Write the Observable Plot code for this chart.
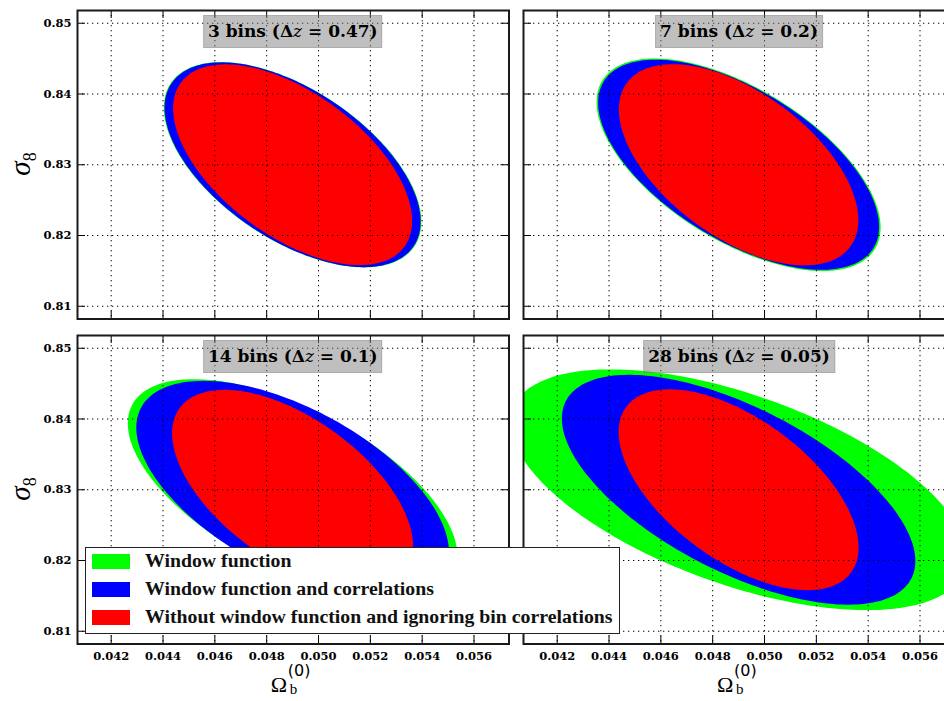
<!DOCTYPE html>
<html>
<head>
<meta charset="utf-8">
<script src="https://cdn.jsdelivr.net/npm/d3@7"></script>
<script src="https://cdn.jsdelivr.net/npm/@observablehq/plot@0.6"></script>
<style>
  html, body { margin: 0; padding: 0; background: #fff; overflow: hidden; }
  #root { position: relative; width: 944px; height: 701px; overflow: hidden; background: #fff; }
  .panel { position: absolute; }
  .panel svg { max-width: none; overflow: visible; display: block; }
  .title { position: absolute; transform: translateX(-50%); box-sizing: border-box;
           background: rgba(128,128,128,0.5); border: 1px solid rgba(128,128,128,0.3);
           font: bold 17px "DejaVu Serif"; height: 33px; line-height: 31px; padding: 0 4px;
           white-space: nowrap; color: #000; }
  .title i { font-weight: normal; }
  .ylab { position: absolute; transform: translate(-50%, -50%) rotate(-90deg);
          font: italic 29px "Liberation Serif"; white-space: nowrap; line-height: 1; color: #000; }
  .ylab span { font-style: normal; font-size: 18px; position: relative; top: 6px; }
  .xlab { position: absolute; width: 60px; height: 24px; color: #000; }
  .xlab .om { position: absolute; left: 0; top: 0; font: 22px "Liberation Serif"; line-height: 1; }
  .xlab .sup { position: absolute; left: 17px; top: -11px; font: 16px "DejaVu Sans"; line-height: 1; }
  .xlab .sub { position: absolute; left: 19px; top: 8px; font: 15px "Liberation Serif"; line-height: 1; }
  .legend { position: absolute; left: 85px; top: 546.7px; width: 535px; height: 87.3px; box-sizing: border-box;
            background: #fff; border: 1.5px solid #222; }
  .legend .sw { position: absolute; left: 6.3px; width: 38px; height: 15px; }
  .legend .lt { position: absolute; left: 59px; font: bold 19.8px "Liberation Serif"; line-height: 1; white-space: nowrap; color: #111; }
</style>
</head>
<body>
<div id="root"></div>
<script>
// ---------------- data ----------------
const panelBins = ["3 bins", "7 bins", "14 bins", "28 bins"];
const panelDeltaZ = ["0.47", "0.2", "0.1", "0.05"];

const seriesNames = [
  "Window function",
  "Window function and correlations",
  "Without window function and ignoring bin correlations"
];
const seriesColors = ["#00ff00", "#0000ff", "#ff0000"];

// Fiducial centre of the ellipses (Ω_b^(0), σ8) per panel
const centerOmega = [0.049, 0.049, 0.049, 0.049];
const centerSigma = [0.83, 0.83, 0.83, 0.83];

// Half extents and correlation of each contour, per panel
const greenHalfOmega = [0.00497, 0.00548, 0.00636, 0.00881];
const greenHalfSigma = [0.01451, 0.01502, 0.01563, 0.01701];
const greenRho       = [-0.555, -0.59, -0.60, -0.56];

const blueHalfOmega  = [0.00494, 0.00542, 0.00603, 0.00682];
const blueHalfSigma  = [0.01447, 0.01485, 0.01539, 0.01624];
const blueRho        = [-0.555, -0.59, -0.57, -0.62];

const redHalfOmega   = [0.00461, 0.00462, 0.00465, 0.00463];
const redHalfSigma   = [0.01419, 0.01422, 0.01412, 0.01419];
const redRho         = [-0.56, -0.55, -0.565, -0.575];

const xTicks = [0.042, 0.044, 0.046, 0.048, 0.050, 0.052, 0.054, 0.056];
const yTicks = [0.81, 0.82, 0.83, 0.84, 0.85];
const xDomain = [0.0407, 0.05735];
const yDomain = [0.8082, 0.8518];

// ---------------- layout ----------------
const frameW = 431.5, frameH = 308.5;
const frameLeft = [77, 523.3, 77, 523.3];
const frameTop = [10, 10, 335, 335];
const root = document.getElementById("root");

function ellipsePoints(cx, cy, sx, sy, rho) {
  const s = Math.sqrt(1 - rho * rho);
  return d3.range(0, 241).map(i => {
    const t = 2 * Math.PI * i / 240;
    return {x: cx + sx * Math.cos(t), y: cy + sy * (rho * Math.cos(t) + s * Math.sin(t))};
  });
}

const halves = [
  [greenHalfOmega, greenHalfSigma, greenRho],
  [blueHalfOmega, blueHalfSigma, blueRho],
  [redHalfOmega, redHalfSigma, redRho]
];

for (let p = 0; p < 4; p++) {
  const isLeft = p % 2 === 0, isBottom = p >= 2;
  const mL = isLeft ? 77 : 12, mR = 12, mT = 10, mB = isBottom ? 40 : 12;
  const ellipseMarks = halves.map(([hx, hy, r], k) =>
    Plot.line(ellipsePoints(centerOmega[p], centerSigma[p], hx[p], hy[p], r[p]),
      {x: "x", y: "y", fill: seriesColors[k], stroke: "none", clip: true}));
  const gridStyle = {stroke: "#000", strokeOpacity: 1, strokeWidth: 1, strokeDasharray: "1.3,3.7"};
  const chart = Plot.plot({
    width: frameW + mL + mR,
    height: frameH + mT + mB,
    marginLeft: mL, marginRight: mR, marginTop: mT, marginBottom: mB,
    x: {domain: xDomain, axis: null},
    y: {domain: yDomain, axis: null},
    style: {background: "transparent", overflow: "visible", fontFamily: "DejaVu Serif", color: "#000"},
    marks: [
      ...ellipseMarks,
      Plot.gridX(xTicks, gridStyle),
      Plot.gridY(yTicks, gridStyle),
      Plot.tickX(xTicks, {x: d => d, insetTop: frameH - 8, stroke: "#000"}),
      Plot.tickX(xTicks, {x: d => d, insetBottom: frameH - 8, stroke: "#000"}),
      Plot.tickY(yTicks, {y: d => d, insetRight: frameW - 8, stroke: "#000"}),
      Plot.tickY(yTicks, {y: d => d, insetLeft: frameW - 8, stroke: "#000"}),
      Plot.frame({stroke: "#1a1a1a", strokeWidth: 2}),
      isBottom ? Plot.axisX(xTicks, {anchor: "bottom", tickSize: 0, tickPadding: 8,
        tickFormat: d3.format(".3f"), fontSize: 11.5, fontWeight: "bold", label: null}) : null,
      isLeft ? Plot.axisY(yTicks, {anchor: "left", tickSize: 0, tickPadding: 6,
        tickFormat: d3.format(".2f"), fontSize: 11.5, fontWeight: "bold", label: null}) : null
    ]
  });
  const holder = document.createElement("div");
  holder.className = "panel";
  holder.style.left = (frameLeft[p] - mL) + "px";
  holder.style.top = (frameTop[p] - mT) + "px";
  holder.appendChild(chart);
  root.appendChild(holder);
}

// titles
for (let p = 0; p < 4; p++) {
  const t = document.createElement("div");
  t.className = "title";
  t.style.left = (frameLeft[p] + frameW / 2) + "px";
  t.style.top = (frameTop[p] + 5) + "px";
  t.innerHTML = `${panelBins[p]} (Δ<i>z</i> = ${panelDeltaZ[p]})`;
  root.appendChild(t);
}

// y labels
for (const top of [frameTop[0], frameTop[2]]) {
  const d = document.createElement("div");
  d.className = "ylab";
  d.style.left = "20px";
  d.style.top = (top + frameH / 2) + "px";
  d.innerHTML = "σ<span>8</span>";
  root.appendChild(d);
}

// x labels
for (const left of [frameLeft[2], frameLeft[3]]) {
  const d = document.createElement("div");
  d.className = "xlab";
  d.style.left = (left + frameW / 2 - 22) + "px";
  d.style.top = "674px";
  d.innerHTML = '<span class="om">Ω</span><span class="sup">(0)</span><span class="sub">b</span>';
  root.appendChild(d);
}

// legend
const legend = document.createElement("div");
legend.className = "legend";
seriesNames.forEach((name, k) => {
  const sw = document.createElement("div");
  sw.className = "sw";
  sw.style.top = (6.3 + k * 27.8) + "px";
  sw.style.background = seriesColors[k];
  legend.appendChild(sw);
  const lt = document.createElement("div");
  lt.className = "lt";
  lt.style.top = (3.6 + k * 27.8) + "px";
  lt.textContent = name;
  legend.appendChild(lt);
});
root.appendChild(legend);
</script>
</body>
</html>
